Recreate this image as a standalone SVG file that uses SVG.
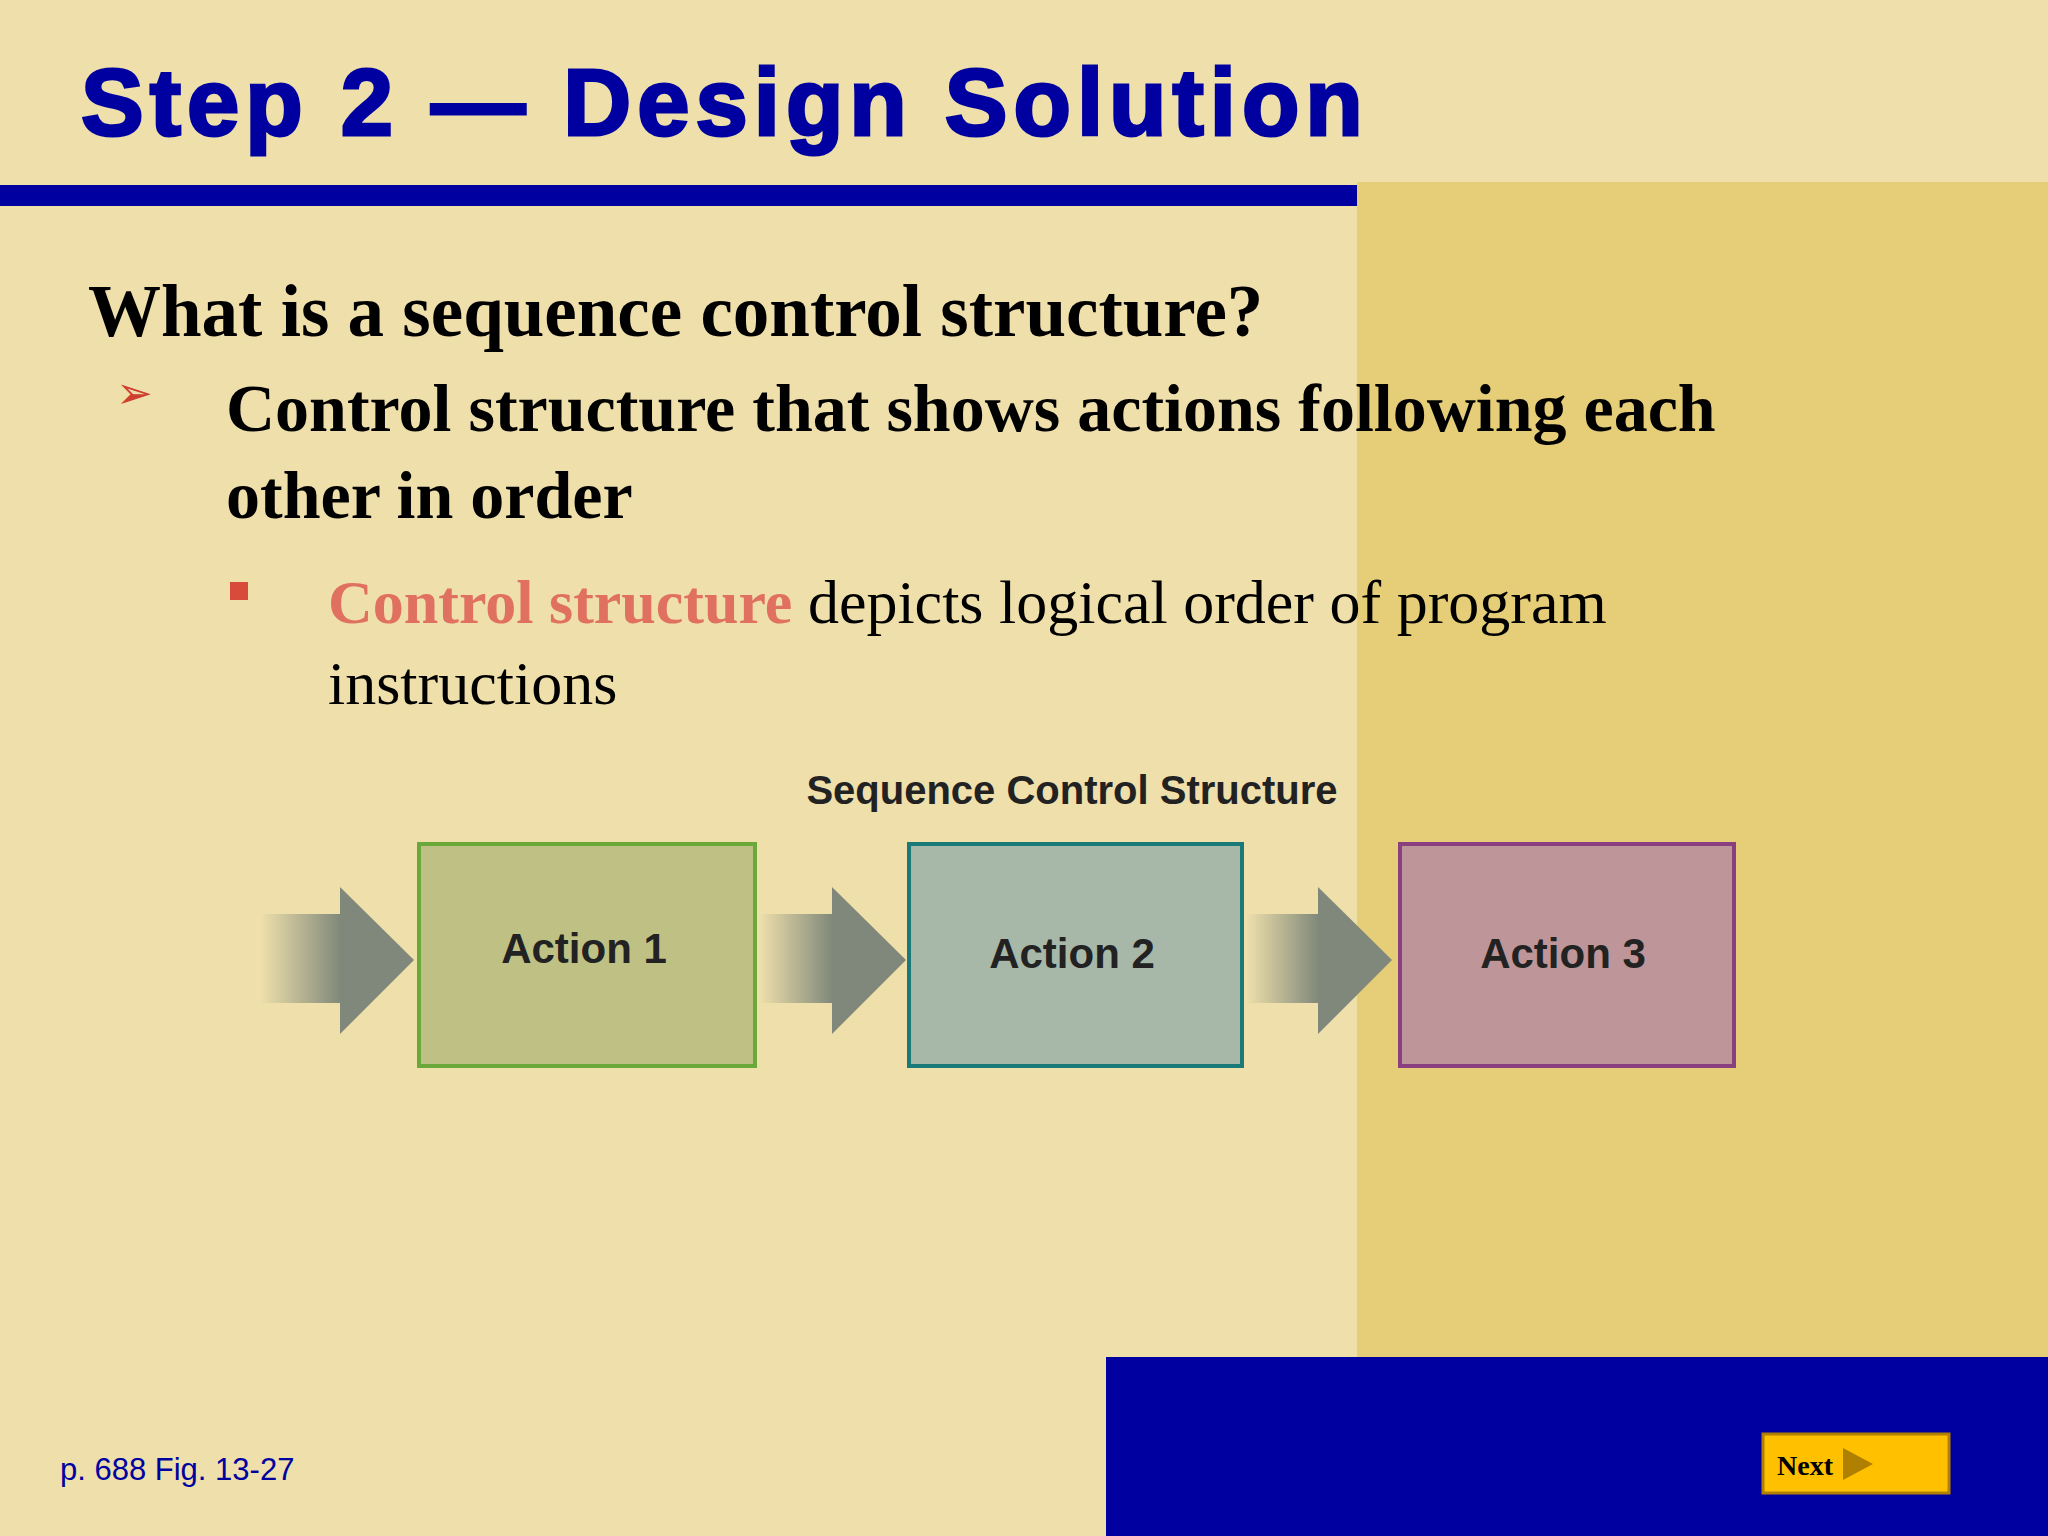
<svg xmlns="http://www.w3.org/2000/svg" width="2048" height="1536" viewBox="0 0 2048 1536">
<defs>
<linearGradient id="sh" x1="0" x2="1" y1="0" y2="0"><stop offset="0" stop-color="#7f887a" stop-opacity="0"/><stop offset="1" stop-color="#7f887a"/></linearGradient>
<style>
.box text{font-family:"Liberation Sans Narrow","Liberation Sans",sans-serif;font-weight:bold;font-size:42px;fill:#222;text-anchor:middle}
.serif{font-family:"Liberation Serif",serif}
</style>
</defs>
<rect width="2048" height="1536" fill="#eedfab"/>
<rect x="1357" y="182" width="691" height="1354" fill="#e6cd78"/>
<rect x="0" y="185" width="1357" height="21" fill="#0000a0"/>
<text x="81" y="135" font-family="Liberation Sans,sans-serif" font-weight="bold" font-size="94" fill="#0000a0" letter-spacing="6" stroke="#0000a0" stroke-width="3">Step 2 — Design Solution</text>
<text x="88" y="336" class="serif" font-weight="bold" font-size="73" fill="#000">What is a sequence control structure?</text>
<text x="116" y="408" font-family="DejaVu Sans,sans-serif" font-size="44" fill="#d04030">➢</text>
<text x="226" y="431" class="serif" font-weight="bold" font-size="68" fill="#000">Control structure that shows actions following each</text>
<text x="226" y="518" class="serif" font-weight="bold" font-size="68" fill="#000">other in order</text>
<rect x="230" y="582" width="18" height="18" fill="#d84a3a"/>
<text x="328" y="623" class="serif" font-size="62" fill="#000"><tspan fill="#e07060" font-weight="bold">Control structure</tspan> depicts logical order of program</text>
<text x="328" y="704" class="serif" font-size="62" fill="#000">instructions</text>
<text x="1072" y="804" font-family="Liberation Sans Narrow,Liberation Sans,sans-serif" font-weight="bold" font-size="40" fill="#222" text-anchor="middle">Sequence Control Structure</text>
<g id="connectors">
<rect x="261" y="914" width="80" height="89" fill="url(#sh)"/><polygon points="340,887 414,960 340,1034" fill="#7f887a"/>
<rect x="760" y="914" width="73" height="89" fill="url(#sh)"/><polygon points="832,887 906,960 832,1034" fill="#7f887a"/>
<rect x="1247" y="914" width="72" height="89" fill="url(#sh)"/><polygon points="1318,887 1392,960 1318,1034" fill="#7f887a"/>
</g>
<g id="action1" class="box"><rect x="419" y="844" width="336" height="222" fill="#bfc084" stroke="#6aa83a" stroke-width="4"/><text x="584" y="963">Action 1</text></g>
<g id="action2" class="box"><rect x="909" y="844" width="333" height="222" fill="#a8b8a8" stroke="#1a7a7a" stroke-width="4"/><text x="1072" y="968">Action 2</text></g>
<g id="action3" class="box"><rect x="1400" y="844" width="334" height="222" fill="#be9598" stroke="#8a3f80" stroke-width="4"/><text x="1563" y="968">Action 3</text></g>
<rect x="1106" y="1357" width="942" height="179" fill="#0000a0"/>
<g id="next"><rect x="1763" y="1434" width="186" height="59" fill="#ffc000" stroke="#b08000" stroke-width="3"/><text x="1777" y="1475" class="serif" font-weight="bold" font-size="28" fill="#000">Next</text><polygon points="1843,1448 1873,1464 1843,1480" fill="#b08000"/></g>
<text x="60" y="1480" font-family="Liberation Sans,sans-serif" font-size="31" fill="#0000a0">p. 688 Fig. 13-27</text>
</svg>
